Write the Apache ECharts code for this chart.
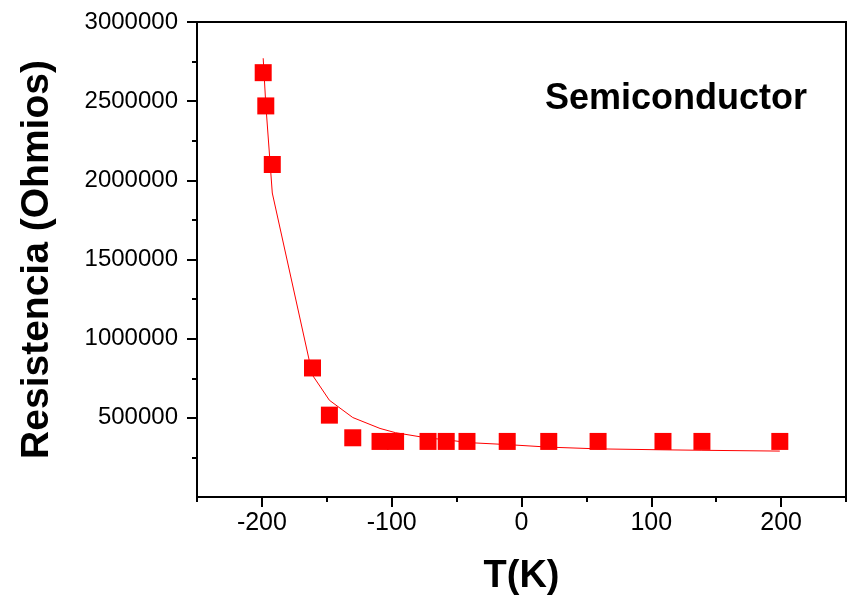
<!DOCTYPE html>
<html><head><meta charset="utf-8">
<script src="https://cdn.jsdelivr.net/npm/echarts@6/dist/echarts.min.js"></script>
<style>html,body{margin:0;padding:0;background:#fff}#c{width:851px;height:601px}</style>
</head><body><div id="c"></div>
<script>
// Measured data (T in K, resistance in Ohms)
const tempK = [-199, -197, -192, -161, -148, -130, -109, -97, -72, -58, -42, -11, 21, 59, 109, 139, 199];
const resistance = [2680000, 2470000, 2100000, 815000, 517000, 374000, 351000, 351000, 351000, 351000, 351000, 351000, 351000, 351000, 351000, 351000, 351000];
// Fitted curve
const fitT = [-199, -197, -192, -161, -148, -130, -109, -97, -72, -58, -42, -11, 21, 59, 109, 139, 199];
const fitR = [2771000, 2480000, 1920000, 769000, 611000, 502000, 433000, 406000, 372000, 362000, 344000, 331000, 315000, 304000, 298000, 295000, 290000];
const xMajorTicks = [-200, -100, 0, 100, 200];
const yMajorTicks = [500000, 1000000, 1500000, 2000000, 2500000, 3000000];
const xName = 'T(K)';
const yName = 'Resistencia (Ohmios)';
const annotation = 'Semiconductor';

const FONT = '"Liberation Sans", Arial, sans-serif';
const black = '#000';
const chart = echarts.init(document.getElementById('c'), null, {renderer: 'canvas'});
const pts = tempK.map((t, i) => [t, resistance[i]]);
const fit = fitT.map((t, i) => [t, fitR[i]]);

chart.setOption({
  animation: false,
  backgroundColor: '#fff',
  grid: {left: 197, top: 22, width: 649, height: 476, show: true, borderColor: black, borderWidth: 2, backgroundColor: 'transparent'},
  xAxis: [{
    type: 'value', min: -250, max: 250, interval: 50, position: 'bottom',
    axisLine: {show: true, onZero: false, lineStyle: {color: black, width: 2}},
    axisTick: {show: true, inside: false, length: 5, lineStyle: {color: black, width: 2}},
    axisLabel: {show: false},
    splitLine: {show: false},
    name: xName, nameLocation: 'middle', nameGap: 61,
    nameTextStyle: {fontFamily: FONT, fontSize: 38, fontWeight: 'bold', color: black}
  }, {
    type: 'value', min: -250, max: 250, interval: 50, position: 'bottom',
    axisLine: {show: false, onZero: false},
    axisTick: {show: true, inside: false, length: 10, customValues: xMajorTicks, lineStyle: {color: black, width: 2}},
    axisLabel: {show: true, customValues: xMajorTicks, margin: 14, fontFamily: FONT, fontSize: 25, color: black},
    splitLine: {show: false}
  }],
  yAxis: {
    type: 'value', min: 0, max: 3000000, interval: 500000,
    axisLine: {show: true, onZero: false, lineStyle: {color: black, width: 2}},
    axisTick: {show: true, inside: false, length: 10, customValues: yMajorTicks, lineStyle: {color: black, width: 2}},
    minorTick: {show: true, splitNumber: 2, length: 5, lineStyle: {color: black, width: 2}},
    axisLabel: {show: true, customValues: yMajorTicks, margin: 19, fontFamily: FONT, fontSize: 24, color: black, formatter: v => String(v)},
    splitLine: {show: false},
    name: yName, nameLocation: 'middle', nameGap: 140,
    nameTextStyle: {fontFamily: FONT, fontSize: 39, fontWeight: 'bold', color: black}
  },
  graphic: [{
    type: 'text', left: 545, top: 81,
    style: {text: annotation, fontFamily: FONT, fontSize: 36, fontWeight: 'bold', fill: black}
  }],
  series: [{
    type: 'line', data: fit, symbol: 'none', smooth: false,
    lineStyle: {color: '#ff0000', width: 1}, z: 2
  }, {
    type: 'scatter', data: pts, symbol: 'rect', symbolSize: 17,
    itemStyle: {color: '#ff0000', opacity: 1}, z: 3
  }]
});
</script>
</body></html>
